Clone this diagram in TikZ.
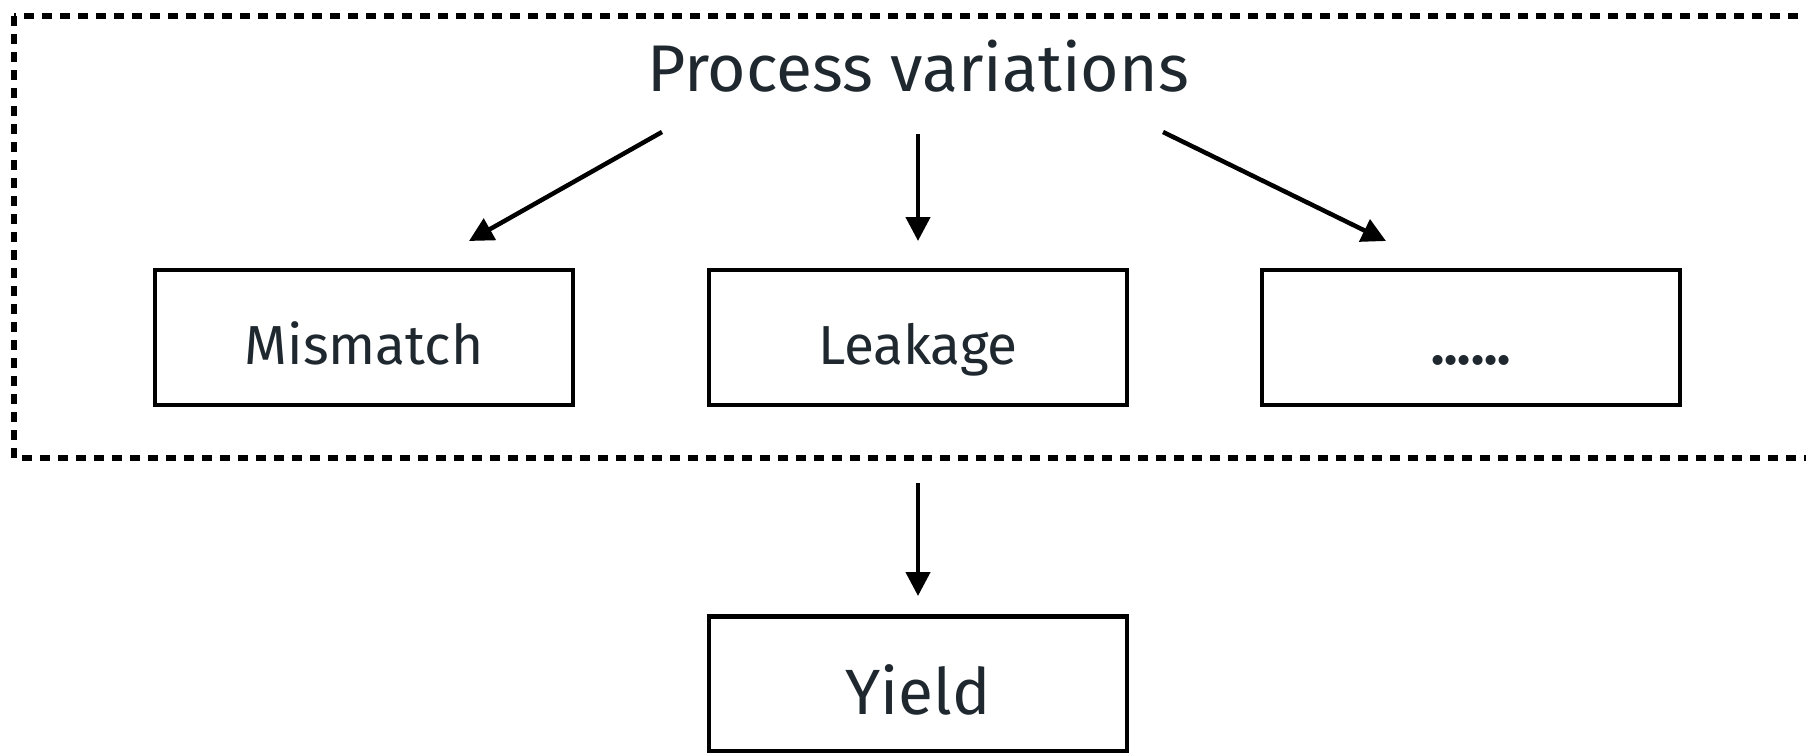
\documentclass[tikz,border=0pt]{standalone}
\usepackage{fontspec}
\setmainfont{Fira Sans}
\usetikzlibrary{arrows.meta}
\definecolor{ink}{HTML}{1E282E}
\tikzset{
  groupbox/.style={draw=black, line width=5.5pt, dash pattern=on 10pt off 8pt},
  itembox/.style={draw=black, line width=4.5pt, minimum width=418pt, minimum height=135pt,
    inner sep=0pt, text=ink, font=\fontsize{55}{62}\selectfont,
    text height=66pt, text depth=13pt},
  title/.style={text=ink, inner sep=0pt, anchor=base, font=\fontsize{66}{74}\selectfont},
  arr/.style={line width=4.5pt, -{Triangle[length=24pt, width=24pt]}}
}
\begin{document}
\begin{tikzpicture}[x=1pt, y={(0pt,-1pt)}]
  \useasboundingbox (0,0) rectangle (1806,752);
  \clip (0,0) rectangle (1806,752);
  % outer grouping frame (runs past the right edge)
  \draw[groupbox] (14,16) rectangle (1850,458);
  % heading
  \node[title] (pv) at (918,92) {Process variations};
  % effect boxes
  \node[itembox] (mis)  at (364,337.5)  {Mismatch};
  \node[itembox] (leak) at (918,337.5)  {Leakage};
  \node[itembox] (more) at (1471,337.5) {\textbf{......}};
  \node[itembox, font=\fontsize{64}{72}\selectfont, text height=78pt, text depth=18pt]
    (yield) at (918,684) {Yield};
  % arrow end points
  \coordinate (pvL) at (662,132);
  \coordinate (pvM) at (918,134);
  \coordinate (pvR) at (1163,132);
  \coordinate (misT)  at (469,241);
  \coordinate (leakT) at (918,241);
  \coordinate (moreT) at (1386,241);
  \coordinate (grpB)  at (918,483);
  \coordinate (yieldT) at (918,596);
  % connectors
  \draw[arr] (pvL) -- (misT);
  \draw[arr] (pvM) -- (leakT);
  \draw[arr] (pvR) -- (moreT);
  \draw[arr] (grpB) -- (yieldT);
\end{tikzpicture}
\end{document}
